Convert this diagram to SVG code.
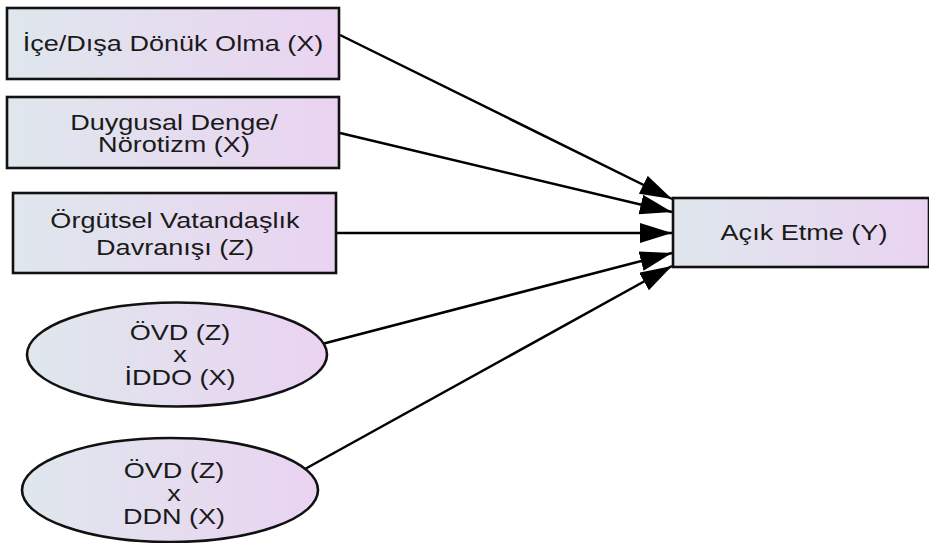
<svg xmlns="http://www.w3.org/2000/svg" width="929" height="543" viewBox="0 0 929 543">
<defs>
<linearGradient id="fillg" x1="0" y1="0" x2="1" y2="0">
<stop offset="0" stop-color="#dfe7ed"/>
<stop offset="1" stop-color="#ead3f1"/>
</linearGradient>
<marker id="ah" markerUnits="userSpaceOnUse" markerWidth="34" markerHeight="22" refX="32" refY="10" orient="auto">
<path d="M0,0 L32,10 L0,20 z" fill="#000"/>
</marker>
<style>
.n { fill: url(#fillg); stroke: #111; stroke-width: 2.6; }
.t { font-family: "Liberation Sans", Arial, sans-serif; font-size: 22px; fill: #1a1a1a; text-anchor: middle; transform-box: fill-box; transform-origin: center; transform: scaleX(1.23); }
.e { stroke: #000; stroke-width: 2.5; fill: none; marker-end: url(#ah); }
</style>
</defs>
<g id="connectors">
<line class="e" x1="340" y1="35" x2="672" y2="199"/>
<line class="e" x1="340" y1="133" x2="672" y2="212"/>
<line class="e" x1="337" y1="233" x2="672" y2="233"/>
<line class="e" x1="322" y1="344" x2="672" y2="253"/>
<line class="e" x1="305" y1="469" x2="672" y2="266"/>
</g>
<g id="node-ice">
<rect class="n" x="7" y="8" width="332" height="71"/>
<text class="t" x="173" y="51">İçe/Dışa Dönük Olma (X)</text>
</g>
<g id="node-duygusal">
<rect class="n" x="7" y="97" width="332" height="71"/>
<text class="t" x="174" y="130">Duygusal Denge/</text>
<text class="t" x="174" y="152">Nörotizm (X)</text>
</g>
<g id="node-ovd">
<rect class="n" x="13" y="193" width="323" height="80"/>
<text class="t" x="175" y="228">Örgütsel Vatandaşlık</text>
<text class="t" x="175" y="255">Davranışı (Z)</text>
</g>
<g id="node-ovd-iddo">
<ellipse class="n" cx="177" cy="354.5" rx="150" ry="52"/>
<text class="t" x="180" y="340">ÖVD (Z)</text>
<text class="t" x="180" y="362">x</text>
<text class="t" x="180" y="385">İDDO (X)</text>
</g>
<g id="node-ovd-ddn">
<ellipse class="n" cx="170" cy="490" rx="148" ry="52"/>
<text class="t" x="174" y="478">ÖVD (Z)</text>
<text class="t" x="174" y="501">x</text>
<text class="t" x="174" y="524">DDN (X)</text>
</g>
<g id="node-acik">
<rect class="n" x="673" y="198" width="256" height="69"/>
<text class="t" x="804" y="240">Açık Etme (Y)</text>
</g>
</svg>
